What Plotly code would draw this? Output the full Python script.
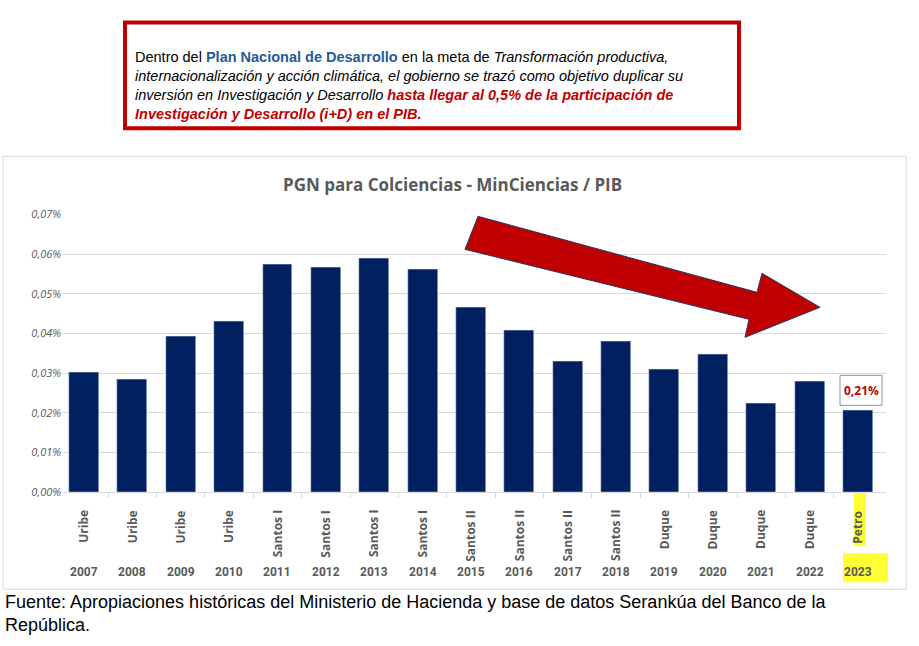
import plotly.graph_objects as go

W, H = 919, 646

years = ["2007", "2008", "2009", "2010", "2011", "2012", "2013", "2014", "2015",
         "2016", "2017", "2018", "2019", "2020", "2021", "2022", "2023"]
presidents = ["Uribe", "Uribe", "Uribe", "Uribe", "Santos I", "Santos I", "Santos I", "Santos I",
              "Santos II", "Santos II", "Santos II", "Santos II", "Duque", "Duque", "Duque", "Duque", "Petro"]
values = [0.0302, 0.0285, 0.0393, 0.0431, 0.0574, 0.0567, 0.0589, 0.0562, 0.0466,
          0.0408, 0.0330, 0.0380, 0.0310, 0.0348, 0.0224, 0.0280, 0.0207]
ytick_vals = [0, 0.01, 0.02, 0.03, 0.04, 0.05, 0.06, 0.07]
ytick_text = ["0,00%", "0,01%", "0,02%", "0,03%", "0,04%", "0,05%", "0,06%", "0,07%"]


def px(x):
    return x / W


def py(y):
    # small correction for how the page ends up on screen
    y = (y - 6.6) / 0.977
    return 1 - y / H


idx = list(range(len(years)))
fig = go.Figure(go.Bar(x=idx, y=values, width=0.62, marker_color="#002060"))

shapes = [
    # chart frame
    dict(type="rect", xref="paper", yref="paper", x0=px(3), x1=px(906), y0=py(588), y1=py(155),
         line=dict(color="#d9d9d9", width=1), layer="below"),
    # red text box
    dict(type="rect", xref="paper", yref="paper", x0=px(125), x1=px(739), y0=py(127), y1=py(21),
         line=dict(color="#c00000", width=4), fillcolor="white", layer="below"),
    # yellow highlights
    dict(type="rect", xref="paper", yref="paper", x0=px(843), x1=px(888), y0=py(581), y1=py(552),
         line_width=0, fillcolor="#ffff33", layer="below"),
    dict(type="rect", xref="paper", yref="paper", x0=px(854), x1=px(866), y0=py(545), y1=py(486),
         line_width=0, fillcolor="#ffff33", layer="below"),
    # label box
    dict(type="rect", xref="paper", yref="paper", x0=px(840), x1=px(882), y0=py(404), y1=py(374),
         line=dict(color="#8496b0", width=1), fillcolor="white", layer="below"),
]
arrow = [(478, 215), (757, 291), (762, 272), (820, 306), (745, 336), (749, 318), (465, 248)]
path = "M " + " L ".join(f"{px(a)},{py(b)}" for a, b in arrow) + " Z"
shapes.append(dict(type="path", xref="paper", yref="paper", path=path,
                   fillcolor="#c00000", line=dict(color="#1f3864", width=1)))

ann = []
for i in idx:
    ann.append(dict(x=i, y=py(507), xref="x", yref="paper", text="<b>" + presidents[i] + "</b>",
                    textangle=-90, showarrow=False, yanchor="top", xanchor="center",
                    font=dict(family="Open Sans", size=12, color="#595959")))
    ann.append(dict(x=i, y=py(571), xref="x", yref="paper", text="<b>" + years[i] + "</b>",
                    showarrow=False, yanchor="middle", xanchor="center",
                    font=dict(family="Roboto", size=12, color="#595959")))

ann += [
    dict(x=px(452), y=py(183), xref="paper", yref="paper", showarrow=False, yanchor="middle", xanchor="center",
         text="<b>PGN para Colciencias - MinCiencias / PIB</b>",
         font=dict(family="Open Sans", size=17, color="#595959")),
    dict(x=px(861), y=py(389), xref="paper", yref="paper", showarrow=False, yanchor="middle", xanchor="center",
         text="<b>0,21%</b>", font=dict(family="Open Sans", size=12, color="#c00000")),
    dict(x=px(133), y=py(84), xref="paper", yref="paper", showarrow=False, xanchor="left", yanchor="middle",
         align="left",
         text="Dentro del <b><span style='color:#1f5c99'>Plan Nacional de Desarrollo</span></b> en la meta de <i>Transformación productiva,</i><br>"
              "<i>internacionalización y acción climática, el gobierno se trazó como objetivo duplicar su</i><br>"
              "<i>inversión en Investigación y Desarrollo</i> <b><i><span style='color:#c00000'>hasta llegar al 0,5% de la participación de</span></i></b><br>"
              "<b><i><span style='color:#c00000'>Investigación y Desarrollo (i+D) en el PIB.</span></i></b>",
         font=dict(family="Liberation Sans, Arial", size=14.5, color="black")),
    dict(x=px(3), y=py(612), xref="paper", yref="paper", showarrow=False, xanchor="left", yanchor="middle",
         align="left",
         text="Fuente: Apropiaciones históricas del Ministerio de Hacienda y base de datos Serankúa del Banco de la<br>República.",
         font=dict(family="Liberation Sans, Arial", size=18, color="black")),
]

fig.update_layout(
    width=W, height=H, margin=dict(l=0, r=0, t=0, b=0),
    paper_bgcolor="white", plot_bgcolor="rgba(0,0,0,0)", showlegend=False,
    shapes=shapes, annotations=ann, bargap=0,
    xaxis=dict(domain=[px(62), px(886)], range=[-0.455, 16.58], showticklabels=False,
               showgrid=False, zeroline=False, showline=True, linecolor="#d9d9d9",
               ticks="outside", tickvals=[i + 0.5 for i in idx[:-1]], ticklen=5, tickcolor="#d9d9d9"),
    yaxis=dict(domain=[py(491), py(213)], range=[0, 0.07], tickvals=ytick_vals, ticktext=ytick_text,
               gridcolor="#d9d9d9", zeroline=False,
               tickfont=dict(family="Open Sans", size=11, color="#595959", style="italic")),
)

fig.write_html("out.html", config={"displayModeBar": False},
               post_script="document.body.style.margin='0';document.body.style.overflow='hidden';"
                           "document.documentElement.style.overflow='hidden';")
